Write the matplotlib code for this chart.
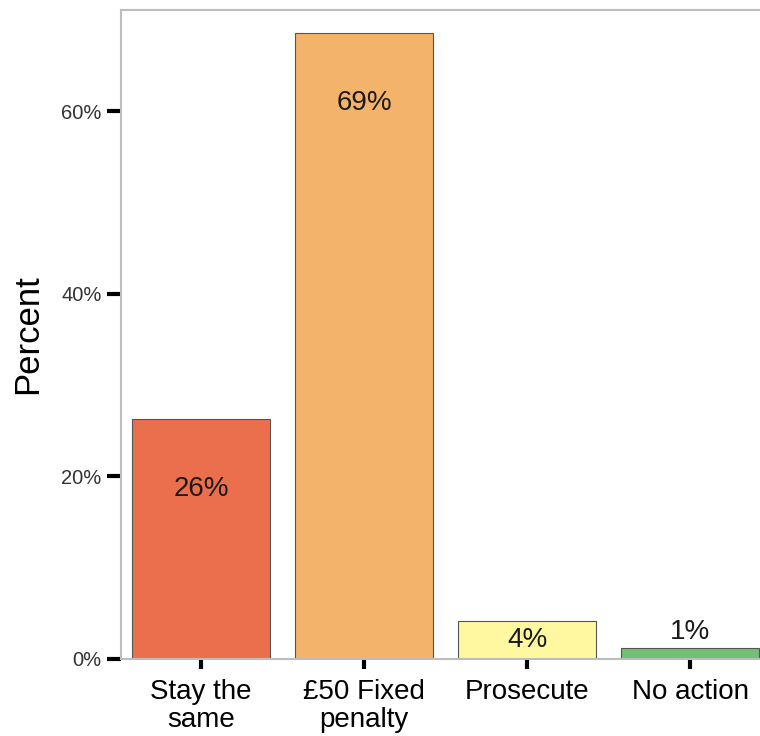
import matplotlib
matplotlib.use("Agg")
from matplotlib import pyplot as plt

categories = ["Stay the\nsame", "£50 Fixed\npenalty", "Prosecute", "No action"]
percents = [26.3, 68.6, 4.2, 1.2]
labels = ["26%", "69%", "4%", "1%"]
colors = ["#EB6F4C", "#F4B36A", "#FFF8A0", "#73BF73"]
yticks = [0, 20, 40, 60]

plt.rcParams['font.family'] = ['Liberation Sans', 'DejaVu Sans']

fig = plt.figure(figsize=(7.6, 7.36), dpi=100)
# axes runs a little past the right edge like the original crop
ax = fig.add_axes([121 / 760, 1 - 659 / 736, 649 / 760, 649 / 736])

x = list(range(1, len(categories) + 1))
ax.bar(x, percents, width=0.85, color=colors, edgecolor="#555555", linewidth=0.8, zorder=2)

for xi, v, lab in zip(x, percents, labels):
    if v > 10:
        ty = v - 7.7
    elif v > 3:
        ty = v / 2
    else:
        ty = v + 1.8
    ax.text(xi, ty, lab, ha="center", va="center", fontsize=20, color="#1a1a1a")

ax.set_xlim(0.51, 4.49)
ax.set_ylim(0, 71.1)
ax.set_xticks(x)
ax.set_xticklabels(categories, fontsize=20, linespacing=1.1)
ax.set_yticks(yticks)
ax.set_yticklabels([f"{t}%" for t in yticks], fontsize=14.5, color="#333333")
ax.tick_params(axis="y", length=10, width=3, color="black", pad=4)
ax.tick_params(axis="x", length=7, width=3, color="black", pad=7.5)
ax.set_ylabel("Percent", fontsize=25, labelpad=12)

for s in ax.spines.values():
    s.set_color("#BDBDBD")
    s.set_linewidth(1.5)

fig.savefig("out.png", dpi=100)
print("done")
